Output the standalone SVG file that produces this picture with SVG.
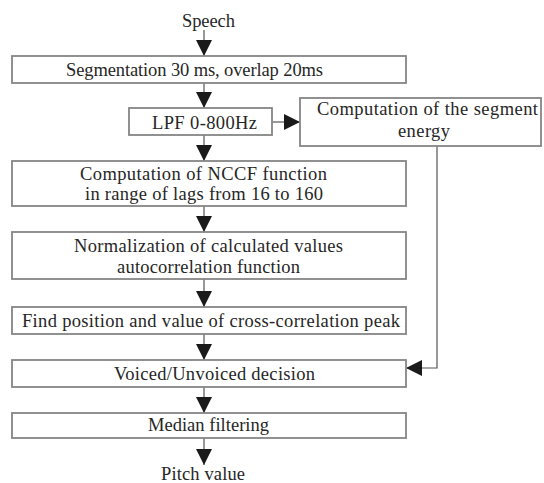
<svg xmlns="http://www.w3.org/2000/svg" width="544" height="483" viewBox="0 0 544 483">
<style>
.box{fill:#fff;stroke:#858585;stroke-width:1.8}
.t{font-family:'Liberation Serif','DejaVu Serif',serif;font-size:18.5px;fill:#262626}
.c{fill:none;stroke:#555;stroke-width:1.2}
</style>
<defs>
<marker id="ah" markerUnits="userSpaceOnUse" markerWidth="16" markerHeight="16" viewBox="0 0 16 16" refX="16" refY="8" orient="auto">
<path d="M0,0 L16,8 L0,16 Z" fill="#1a1a1a"/>
</marker>
</defs>
<rect width="544" height="483" fill="#fff"/>
<g id="connectors">
<line class="c" x1="204" y1="30" x2="204" y2="56" marker-end="url(#ah)"/>
<line class="c" x1="204" y1="83" x2="204" y2="108" marker-end="url(#ah)"/>
<line class="c" x1="204" y1="135" x2="204" y2="161" marker-end="url(#ah)"/>
<line class="c" x1="204" y1="206" x2="204" y2="232" marker-end="url(#ah)"/>
<line class="c" x1="204" y1="279" x2="204" y2="307" marker-end="url(#ah)"/>
<line class="c" x1="204" y1="334" x2="204" y2="360" marker-end="url(#ah)"/>
<line class="c" x1="204" y1="387" x2="204" y2="413" marker-end="url(#ah)"/>
<line class="c" x1="204" y1="438" x2="204" y2="465" marker-end="url(#ah)"/>
<line class="c" x1="272" y1="122" x2="300" y2="122" marker-end="url(#ah)"/>
<polyline class="c" points="437,146 437,368 406,368" marker-end="url(#ah)"/>
</g>
<g font-family="Liberation Serif, serif">
<g id="speech"><text class="t" x="182" y="27" textLength="53" lengthAdjust="spacing">Speech</text></g>
<g id="segmentation">
<rect class="box" x="12" y="56" width="394" height="27"/>
<text class="t" x="66" y="76" textLength="257" lengthAdjust="spacing">Segmentation 30 ms, overlap 20ms</text>
</g>
<g id="lpf">
<rect class="box" x="129" y="108" width="143" height="27"/>
<text class="t" x="152" y="129" textLength="105" lengthAdjust="spacing">LPF 0-800Hz</text>
</g>
<g id="energy">
<rect class="box" x="300" y="98" width="241" height="48"/>
<text class="t" x="317" y="115" textLength="221" lengthAdjust="spacing">Computation of  the segment</text>
<text class="t" x="398" y="137" textLength="52" lengthAdjust="spacing">energy</text>
</g>
<g id="nccf">
<rect class="box" x="12" y="161" width="394" height="45"/>
<text class="t" x="80" y="180" textLength="247" lengthAdjust="spacing">Computation of NCCF  function</text>
<text class="t" x="85" y="200" textLength="238" lengthAdjust="spacing">in range of lags from 16 to 160</text>
</g>
<g id="normalization">
<rect class="box" x="12" y="232" width="394" height="47"/>
<text class="t" x="74" y="252" textLength="269" lengthAdjust="spacing">Normalization of calculated values</text>
<text class="t" x="117" y="273" textLength="183" lengthAdjust="spacing">autocorrelation function</text>
</g>
<g id="peak">
<rect class="box" x="12" y="307" width="394" height="27"/>
<text class="t" x="22" y="327" textLength="378" lengthAdjust="spacing">Find position and value of cross-correlation peak</text>
</g>
<g id="voiced">
<rect class="box" x="12" y="360" width="394" height="27"/>
<text class="t" x="114" y="380" textLength="201" lengthAdjust="spacing">Voiced/Unvoiced decision</text>
</g>
<g id="median">
<rect class="box" x="12" y="413" width="394" height="25"/>
<text class="t" x="148" y="431" textLength="121" lengthAdjust="spacing">Median filtering</text>
</g>
<g id="pitch"><text class="t" x="161" y="480" textLength="84" lengthAdjust="spacing">Pitch value</text></g>
</g>
</svg>
